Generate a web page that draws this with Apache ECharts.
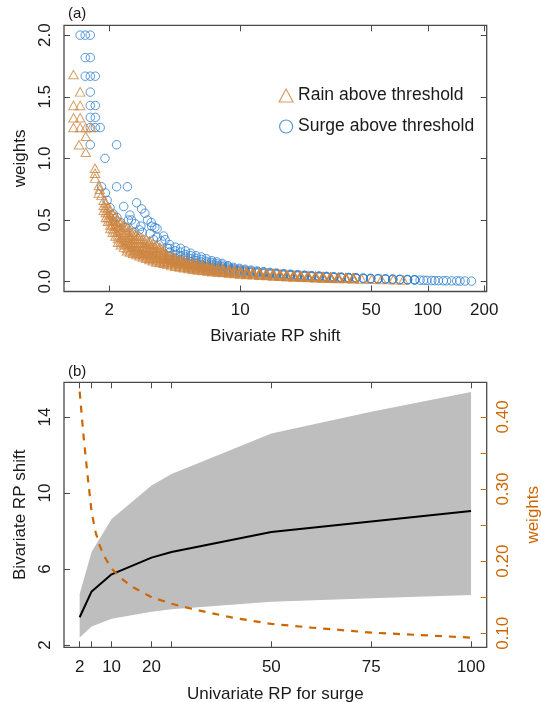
<!DOCTYPE html>
<html><head><meta charset="utf-8">
<script src="https://cdn.jsdelivr.net/npm/echarts@6/dist/echarts.min.js"></script>
<style>html,body{margin:0;padding:0;background:#fff}#c{width:541px;height:702px}</style>
</head><body><div id="c"></div>
<script>
// ---------- Panel (a): weights vs bivariate RP shift ----------
// each row: [RP shift, weight, weight, ...] -> one triangle/circle per weight
const rainRows = [
 [1.29, 1.68, 1.43, 1.33, 1.25], [1.40, 1.54, 1.43, 1.33, 1.25], [1.50, 1.25, 1.18, 1.05], [1.60, 1.25], [1.38, 1.11],
 [1.68, 0.92, 0.88, 0.84], [1.76, 0.78, 0.72], [1.78, 0.75], [1.82, 0.70],
 [1.87, 0.66, 0.62, 0.58], [1.92, 0.64, 0.60, 0.56, 0.52], [1.97, 0.60, 0.56, 0.52, 0.49],
 [2.03, 0.58, 0.54, 0.50, 0.46, 0.43], [2.09, 0.55, 0.51, 0.47, 0.43, 0.40], [2.16, 0.53, 0.49, 0.45, 0.41, 0.37],
 [2.23, 0.50, 0.46, 0.42, 0.38, 0.35, 0.32], [2.31, 0.48, 0.44, 0.40, 0.36, 0.33, 0.30], [2.40, 0.46, 0.42, 0.38, 0.34, 0.31, 0.28],
 [2.49, 0.44, 0.40, 0.36, 0.33, 0.30, 0.27, 0.25], [2.58, 0.42, 0.38, 0.35, 0.32, 0.29, 0.26, 0.24],
 [2.68, 0.40, 0.37, 0.34, 0.31, 0.28, 0.25, 0.23], [2.79, 0.38, 0.35, 0.32, 0.29, 0.26, 0.24, 0.22],
 [2.90, 0.37, 0.34, 0.31, 0.28, 0.25, 0.23, 0.21], [3.02, 0.35, 0.32, 0.29, 0.27, 0.24, 0.22, 0.20],
 [3.15, 0.34, 0.31, 0.28, 0.26, 0.23, 0.21, 0.19], [3.28, 0.33, 0.30, 0.27, 0.25, 0.22, 0.20, 0.18],
 [3.42, 0.31, 0.28, 0.26, 0.24, 0.21, 0.19, 0.17], [3.57, 0.30, 0.27, 0.25, 0.23, 0.20, 0.18, 0.16],
 [3.73, 0.28, 0.26, 0.24, 0.22, 0.19, 0.17, 0.155], [3.90, 0.26, 0.24, 0.22, 0.20, 0.18, 0.165, 0.15],
 [4.08, 0.22, 0.20, 0.185, 0.17, 0.155, 0.14], [4.28, 0.21, 0.19, 0.175, 0.16, 0.145, 0.13],
 [4.50, 0.195, 0.18, 0.165, 0.15, 0.137, 0.125], [4.75, 0.185, 0.17, 0.155, 0.142, 0.13, 0.118],
 [5.00, 0.175, 0.16, 0.147, 0.135, 0.123, 0.112], [5.30, 0.165, 0.15, 0.138, 0.127, 0.116, 0.106],
 [5.60, 0.155, 0.142, 0.13, 0.12, 0.11, 0.10], [5.95, 0.146, 0.134, 0.123, 0.113, 0.104, 0.095],
 [6.30, 0.138, 0.126, 0.116, 0.107, 0.098, 0.09], [6.70, 0.13, 0.119, 0.11, 0.101, 0.093, 0.086],
 [7.10, 0.122, 0.112, 0.103, 0.095, 0.088, 0.081], [7.60, 0.115, 0.105, 0.097, 0.09, 0.083, 0.077],
 [8.10, 0.108, 0.099, 0.091, 0.085, 0.078, 0.073], [8.70, 0.101, 0.093, 0.086, 0.08, 0.074, 0.069],
 [9.30, 0.095, 0.088, 0.081, 0.075, 0.07, 0.065], [10.0, 0.089, 0.082, 0.076, 0.071, 0.066, 0.061],
 [10.8, 0.084, 0.077, 0.072, 0.067, 0.062, 0.058], [11.7, 0.079, 0.073, 0.068, 0.063, 0.059, 0.055],
 [12.7, 0.074, 0.069, 0.064, 0.059, 0.055, 0.052], [13.8, 0.07, 0.065, 0.06, 0.056, 0.052, 0.049],
 [15.0, 0.066, 0.061, 0.057, 0.053, 0.049, 0.046], [16.3, 0.062, 0.057, 0.053, 0.05, 0.046, 0.043],
 [17.7, 0.058, 0.054, 0.05, 0.047, 0.043, 0.04], [19.3, 0.055, 0.051, 0.047, 0.044, 0.041, 0.038],
 [21.0, 0.052, 0.048, 0.044, 0.041, 0.038, 0.035], [23.0, 0.049, 0.045, 0.042, 0.039, 0.036, 0.033],
 [25.2, 0.046, 0.042, 0.039, 0.036, 0.033, 0.031], [27.6, 0.043, 0.04, 0.037, 0.034, 0.031, 0.029],
 [30.3, 0.04, 0.037, 0.034, 0.032, 0.029, 0.027], [33.3, 0.037, 0.034, 0.032, 0.029, 0.027, 0.025],
 [36.6, 0.034, 0.032, 0.029, 0.027, 0.025], [40.0, 0.031, 0.029, 0.027, 0.025, 0.023],
 [44.4, 0.022], [50.2, 0.020], [56.6, 0.018], [65.5, 0.016], [74.0, 0.014]
];
const surgeRows = [
 [1.40, 2.0], [1.49, 2.0, 1.818, 1.667], [1.585, 2.0, 1.818, 1.667, 1.538, 1.429, 1.333, 1.25, 1.111],
 [1.686, 1.667, 1.429, 1.333, 1.25], [1.79, 1.25], [2.19, 1.111, 0.77], [1.90, 1.0], [2.50, 0.77],
 [1.82, 0.77], [1.91, 0.72], [1.95, 0.66], [2.02, 0.60], [2.10, 0.55], [2.20, 0.52], [2.30, 0.48],
 [2.39, 0.61], [2.45, 0.44], [2.53, 0.50], [2.58, 0.54], [2.63, 0.50], [2.70, 0.40], [2.75, 0.47],
 [2.80, 0.64], [2.90, 0.42], [2.95, 0.45], [2.98, 0.59], [3.00, 0.40], [3.10, 0.555], [3.20, 0.50],
 [3.30, 0.39], [3.35, 0.48], [3.37, 0.45], [3.45, 0.34], [3.50, 0.44], [3.60, 0.43, 0.36], [3.80, 0.33],
 [3.90, 0.37], [3.97, 0.34], [4.10, 0.27],
 [4.20, 0.30, 0.27, 0.24, 0.21, 0.18], [4.50, 0.28, 0.25, 0.22, 0.19, 0.17], [4.80, 0.27, 0.24, 0.21, 0.18, 0.16],
 [5.10, 0.25, 0.22, 0.20, 0.17, 0.15], [5.45, 0.23, 0.21, 0.185, 0.16, 0.14], [5.80, 0.21, 0.19, 0.17, 0.15, 0.13],
 [6.20, 0.20, 0.18, 0.16, 0.14, 0.125], [6.60, 0.185, 0.165, 0.15, 0.135, 0.12], [7.05, 0.17, 0.155, 0.14, 0.125, 0.11],
 [7.50, 0.16, 0.145, 0.13, 0.117, 0.105], [8.00, 0.148, 0.135, 0.122, 0.11, 0.10], [8.60, 0.13, 0.12, 0.11, 0.10, 0.092],
 [9.20, 0.116, 0.106, 0.097, 0.088], [9.90, 0.108, 0.099, 0.09, 0.082], [10.6, 0.10, 0.092, 0.084, 0.077],
 [11.4, 0.093, 0.086, 0.079, 0.072], [12.3, 0.087, 0.08, 0.074, 0.068], [13.3, 0.081, 0.075, 0.069, 0.063],
 [14.4, 0.075, 0.07, 0.064, 0.059], [15.6, 0.07, 0.065, 0.06, 0.055], [17.0, 0.065, 0.06, 0.056, 0.052],
 [18.5, 0.061, 0.056, 0.052, 0.048], [20.2, 0.057, 0.052, 0.048, 0.045], [22.0, 0.053, 0.049, 0.045, 0.042],
 [24.0, 0.049, 0.046, 0.042, 0.039], [26.3, 0.046, 0.043, 0.039, 0.036], [28.8, 0.043, 0.04, 0.037, 0.034],
 [31.5, 0.04, 0.037, 0.034, 0.032], [34.5, 0.037, 0.034, 0.032, 0.03], [37.8, 0.034, 0.032, 0.03, 0.028],
 [41.4, 0.032, 0.03, 0.028, 0.026], [45.3, 0.029, 0.027, 0.025], [49.6, 0.027, 0.025, 0.023],
 [54.3, 0.025, 0.023, 0.021], [59.5, 0.023, 0.021, 0.019], [65.0, 0.021, 0.019, 0.017],
 [71.0, 0.019, 0.017, 0.016], [78.0, 0.017, 0.016, 0.014], [85.0, 0.016, 0.014, 0.013],
 [91.0, 0.012], [95.0, 0.011], [99.0, 0.010], [105, 0.009], [109, 0.008], [114, 0.008], [121, 0.007],
 [126, 0.007], [134, 0.006], [142.6, 0.006], [148.5, 0.005], [158, 0.005], [171, 0.004]
];
const topXTicks = [2, 10, 50, 100, 200];
const topYTicks = [0, 0.5, 1.0, 1.5, 2.0];

// ---------- Panel (b): bivariate RP shift vs univariate RP for surge ----------
const rpSurge      = [2, 5, 10, 20, 25, 50, 75, 100];
const shiftMedian  = [3.46, 4.82, 5.72, 6.60, 6.90, 7.95, 8.50, 9.05];
const shiftLower   = [2.40, 2.97, 3.38, 3.75, 3.88, 4.28, 4.46, 4.63];
const shiftUpper   = [4.68, 6.91, 8.64, 10.40, 11.00, 13.14, 14.28, 15.32];
const weightRP     = [2, 3, 4, 5, 6, 7, 8, 10, 12, 15, 20, 25, 30, 40, 50, 60, 75, 100];
const weightValue  = [0.435, 0.372, 0.318, 0.268, 0.240, 0.222, 0.208, 0.190, 0.178, 0.165, 0.150, 0.141, 0.134, 0.122, 0.113, 0.108, 0.101, 0.094];
const bottomXTicks  = [2, 5, 10, 20, 25, 50, 75, 100];
const bottomXLabels = [2, 10, 20, 50, 75, 100];
const leftYTicks    = [2, 6, 10, 14];
const rightYTicks   = [0.10, 0.15, 0.20, 0.25, 0.30, 0.35, 0.40];
const rightYLabels  = [0.10, 0.20, 0.30, 0.40];

function expandRows(rows) {
  const out = [];
  rows.forEach(r => { for (let k = 1; k < r.length; k++) out.push([r[0], r[k]]); });
  return out;
}

const FONT = '"Liberation Sans", Arial, Helvetica, sans-serif';
const TXT = '#1a1a1a';
const AX = '#4a4a4a';
const ORANGE = '#CD6600';
const RAIN = '#CD853F';
const SURGE = '#2E7FD0';
const FS = 17;

function tickAxis(o) {
  return Object.assign({
    axisLine: {show: false, onZero: false},
    splitLine: {show: false},
    minorTick: {show: false},
    axisTick: {show: true, inside: true, length: 6, lineStyle: {color: AX, width: 1}},
    axisLabel: {show: false}
  }, o);
}
function lbl(vals, extra) {
  return Object.assign({show: true, customValues: vals, fontSize: FS, color: TXT, fontFamily: FONT}, extra || {});
}
function tck(vals, color) {
  return {show: true, inside: true, length: 6, customValues: vals, lineStyle: {color: color || AX, width: 1}};
}

const chart = echarts.init(document.getElementById('c'), null, {renderer: 'canvas'});
chart.setOption({
  animation: false,
  backgroundColor: '#ffffff',
  textStyle: {fontFamily: FONT},
  grid: [
    {left: 64, top: 25.3, width: 422.7, height: 266.2, show: true, borderColor: AX, borderWidth: 1.3, backgroundColor: 'transparent', outerBoundsMode: 'none', containLabel: false},
    {left: 64, top: 382.3, width: 422.7, height: 265, show: true, borderColor: AX, borderWidth: 1.3, backgroundColor: 'transparent', outerBoundsMode: 'none', containLabel: false}
  ],
  graphic: [
    {type: 'text', left: 68, top: 6, style: {text: '(a)', fontSize: 15, fill: TXT, fontFamily: FONT}},
    {type: 'text', left: 68, top: 364, style: {text: '(b)', fontSize: 15, fill: TXT, fontFamily: FONT}}
  ],
  legend: {
    show: true, orient: 'vertical', left: 278.5, top: 86.5, padding: 0,
    itemWidth: 14, itemHeight: 13, itemGap: 13,
    textStyle: {fontSize: 17.5, color: TXT, fontFamily: FONT, lineHeight: 17},
    selectedMode: false,
    data: [
      {name: 'Rain above threshold', icon: 'triangle', itemStyle: {color: 'rgba(0,0,0,0)', borderColor: RAIN, borderWidth: 1.2}},
      {name: 'Surge above threshold', icon: 'circle', itemStyle: {color: 'rgba(0,0,0,0)', borderColor: SURGE, borderWidth: 1.2}}
    ]
  },
  xAxis: [
    tickAxis({gridIndex: 0, type: 'log', logBase: 10, min: 1.148, max: 206.2, position: 'bottom',
      axisTick: tck(topXTicks), axisLabel: lbl(topXTicks, {margin: 10.5}),
      name: 'Bivariate RP shift', nameLocation: 'middle', nameGap: 36.5,
      nameTextStyle: {fontSize: FS, color: TXT, fontFamily: FONT}}),
    tickAxis({gridIndex: 0, type: 'log', logBase: 10, min: 1.148, max: 206.2, position: 'top',
      axisTick: tck(topXTicks)}),
    tickAxis({gridIndex: 1, type: 'value', min: -1.92, max: 103.92, position: 'bottom',
      axisTick: tck(bottomXTicks), axisLabel: lbl(bottomXLabels, {margin: 12}),
      name: 'Univariate RP for surge', nameLocation: 'middle', nameGap: 38.5,
      nameTextStyle: {fontSize: FS, color: TXT, fontFamily: FONT}}),
    tickAxis({gridIndex: 1, type: 'value', min: -1.92, max: 103.92, position: 'top',
      axisTick: tck(bottomXTicks)})
  ],
  yAxis: [
    tickAxis({gridIndex: 0, type: 'value', min: -0.08, max: 2.08, position: 'left',
      axisTick: tck(topYTicks), axisLabel: lbl(topYTicks, {rotate: 90, margin: 10, formatter: v => Number(v).toFixed(1)}),
      name: 'weights', nameLocation: 'middle', nameGap: 35.5, nameRotate: 90,
      nameTextStyle: {fontSize: FS, color: TXT, fontFamily: FONT}}),
    tickAxis({gridIndex: 0, type: 'value', min: -0.08, max: 2.08, position: 'right',
      axisTick: tck(topYTicks)}),
    tickAxis({gridIndex: 1, type: 'value', min: 1.88, max: 15.83, position: 'left',
      axisTick: tck(leftYTicks), axisLabel: lbl(leftYTicks, {rotate: 90, margin: 10}),
      name: 'Bivariate RP shift', nameLocation: 'middle', nameGap: 35.5, nameRotate: 90,
      nameTextStyle: {fontSize: FS, color: TXT, fontFamily: FONT}}),
    tickAxis({gridIndex: 1, type: 'value', min: 0.0806, max: 0.448, position: 'right',
      axisTick: tck(rightYTicks, ORANGE), axisLabel: lbl(rightYLabels, {rotate: 90, margin: 8, color: ORANGE, formatter: v => Number(v).toFixed(2)}),
      name: 'weights', nameLocation: 'middle', nameGap: 38, nameRotate: 90,
      nameTextStyle: {fontSize: FS, color: ORANGE, fontFamily: FONT}})
  ],
  series: [
    {name: 'Surge above threshold', type: 'scatter', xAxisIndex: 0, yAxisIndex: 0,
      symbol: 'circle', symbolSize: 8.5, data: expandRows(surgeRows), silent: true,
      itemStyle: {color: 'rgba(0,0,0,0)', borderColor: SURGE, borderWidth: 1}},
    {name: 'Rain above threshold', type: 'scatter', xAxisIndex: 0, yAxisIndex: 0,
      symbol: 'triangle', symbolSize: [9.5, 8.5], data: expandRows(rainRows), silent: true,
      itemStyle: {color: 'rgba(0,0,0,0)', borderColor: RAIN, borderWidth: 1}},
    {name: 'band', type: 'custom', xAxisIndex: 2, yAxisIndex: 2, silent: true,
      data: rpSurge.map((x, i) => [x, shiftLower[i], shiftUpper[i]]),
      encode: {x: 0, y: [1, 2]},
      renderItem: function (params, api) {
        if (params.dataIndex !== 0) return null;
        const pts = [];
        for (let i = 0; i < rpSurge.length; i++) pts.push(api.coord([rpSurge[i], shiftUpper[i]]));
        for (let i = rpSurge.length - 1; i >= 0; i--) pts.push(api.coord([rpSurge[i], shiftLower[i]]));
        return {type: 'polygon', shape: {points: pts}, style: {fill: '#BEBEBE', stroke: null}};
      }},
    {name: 'median', type: 'line', xAxisIndex: 2, yAxisIndex: 2, symbol: 'none', silent: true,
      data: rpSurge.map((x, i) => [x, shiftMedian[i]]), lineStyle: {color: '#000000', width: 2}},
    {name: 'weightLine', type: 'line', xAxisIndex: 2, yAxisIndex: 3, symbol: 'none', silent: true,
      data: weightRP.map((x, i) => [x, weightValue[i]]), lineStyle: {color: ORANGE, width: 2.2, type: [7, 7]}}
  ]
});
</script></body></html>
